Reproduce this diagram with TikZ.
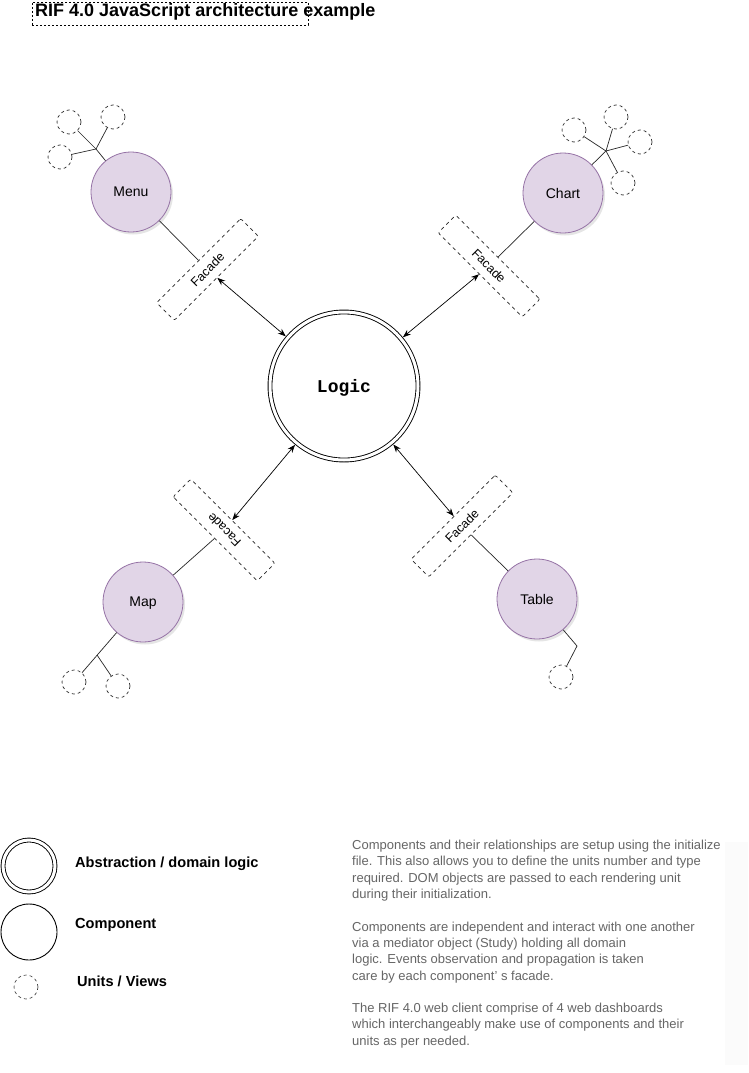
\documentclass[tikz,border=0pt]{standalone}
\usepackage{fontspec}
\setmainfont{Liberation Sans}
\newfontfamily\logicfont{Liberation Mono}
\usetikzlibrary{arrows.meta,shadows}
\definecolor{compfill}{HTML}{E1D5E7}
\definecolor{compdraw}{HTML}{9673A6}
\definecolor{desc}{HTML}{666666}
\begin{document}
\begin{tikzpicture}[x=1pt,y=-1pt,
  comp/.style={circle,draw=compdraw,fill=compfill,minimum size=80pt,inner sep=0pt,line width=0.8pt,
    font=\fontsize{14}{16}\selectfont,text depth=0pt,
    drop shadow={shadow xshift=2pt,shadow yshift=-2.5pt,opacity=0.2}},
  unit/.style={circle,draw=black!80,dash pattern=on 3pt off 3pt,minimum size=24pt,inner sep=0pt,line width=0.7pt},
  facade/.style={draw=black!85,dash pattern=on 3.5pt off 3.5pt,rounded corners=2pt,minimum width=119pt,
    minimum height=25pt,inner sep=0pt,line width=0.7pt,font=\fontsize{12.5}{14}\selectfont},
  link/.style={line width=0.7pt,draw=black!85},
  twoway/.style={line width=0.7pt,{Stealth[length=8pt,width=6pt]}-{Stealth[length=8pt,width=6pt]}},
  legtext/.style={anchor=base west,inner sep=0pt,font=\fontsize{14.6}{17}\selectfont\bfseries},
  logicstyle/.style={circle,draw,double,double distance=3pt,line width=0.9pt,minimum size=148pt,inner sep=0pt,
    outer sep=2.5pt,text depth=0pt,font=\fontsize{18}{20}\selectfont\logicfont\bfseries}
]
\useasboundingbox (0,0) rectangle (748,1073);
\fill[white] (0,0) rectangle (748,1073);

% title
\node[draw,dash pattern=on 2pt off 2pt,line width=0.6pt,minimum width=276pt,minimum height=23pt,inner sep=0pt]
  (titlebox) at (170,13.5) {};
\node[anchor=base west,inner sep=0pt,font=\fontsize{18}{20}\selectfont\bfseries]
  (title) at (35,17) {RIF 4.0 JavaScript architecture example};

% logic
\node[logicstyle] (logic) at (344,386) {Logic};

% components
\node[comp] (menu) at (131,192) {Menu};
\node[comp] (chart) at (563,193) {Chart};
\node[comp] (map) at (143,602) {Map};
\node[comp] (table) at (537,599) {Table};

% facades
\node[facade,rotate=45] (fmenu) at (207.5,269.5) {Facade};
\node[facade,rotate=-45] (fchart) at (489,266) {Facade};
\node[facade,rotate=135] (fmap) at (224,530) {Facade};
\node[facade,rotate=45] (ftable) at (462,526) {Facade};

% component to facade
\draw[link] (menu) -- (fmenu);
\draw[link] (chart) -- (fchart);
\draw[link] (map) -- (fmap);
\draw[link] (table) -- (ftable);

% facade to logic
\draw[twoway] (fmenu) -- (logic);
\draw[twoway] (fchart) -- (logic);
\draw[twoway] (fmap) -- (logic);
\draw[twoway] (ftable) -- (logic);

% menu units
\node[unit] (mu1) at (69,122) {};
\node[unit] (mu2) at (113,117) {};
\node[unit] (mu3) at (60,157) {};
\coordinate (jmenu) at (96,149);
\draw[link] (menu) -- (jmenu);
\draw[link] (jmenu) -- (mu1);
\draw[link] (jmenu) -- (mu2);
\draw[link] (jmenu) -- (mu3);

% chart units
\node[unit] (cu1) at (574,130) {};
\node[unit] (cu2) at (616,117) {};
\node[unit] (cu3) at (640,142) {};
\node[unit] (cu4) at (623,183) {};
\coordinate (jchart) at (606,151);
\draw[link] (chart) -- (jchart);
\draw[link] (jchart) -- (cu1);
\draw[link] (jchart) -- (cu2);
\draw[link] (jchart) -- (cu3);
\draw[link] (jchart) -- (cu4);

% map units
\node[unit] (pu1) at (74,682) {};
\node[unit] (pu2) at (118,686) {};
\coordinate (jmap) at (97,655);
\draw[link] (map) -- (pu1);
\draw[link] (jmap) -- (pu2);

% table unit
\node[unit] (tu1) at (561,677) {};
\coordinate (jtable) at (577,646);
\draw[link] (table) -- (jtable) -- (tu1);

% legend
\node[circle,draw,double,double distance=3pt,line width=0.9pt,minimum size=52pt,inner sep=0pt] (legabs) at (29,866) {};
\node[circle,draw,line width=0.9pt,minimum size=56pt,inner sep=0pt] (legcomp) at (29,932) {};
\node[unit,line width=0.6pt] (legunit) at (26,987) {};
\node[legtext] (legabst) at (75,867) {Abstraction / domain logic};
\node[legtext] (legcompt) at (75,928) {Component};
\node[legtext] (legunitt) at (77,986) {Units / Views};

% description
\fill[black!1.5] (725,842) rectangle (748,1065);
\node[anchor=north west,inner sep=0pt,align=left,text=desc,font=\fontsize{13}{16.3}\selectfont] (desc) at (352,840)
{Components and their relationships are setup using the initialize\\
file. This also allows you to define the units number and type\\
required. DOM objects are passed to each rendering unit\\
during their initialization.\\[16.3pt]
Components are independent and interact with one another\\
via a mediator object (Study) holding all domain\\
logic. Events observation and propagation is taken\\
care by each component' s facade.\\[16.3pt]
The RIF 4.0 web client comprise of 4 web dashboards\\
which interchangeably make use of components and their\\
units as per needed.};
\end{tikzpicture}
\end{document}
